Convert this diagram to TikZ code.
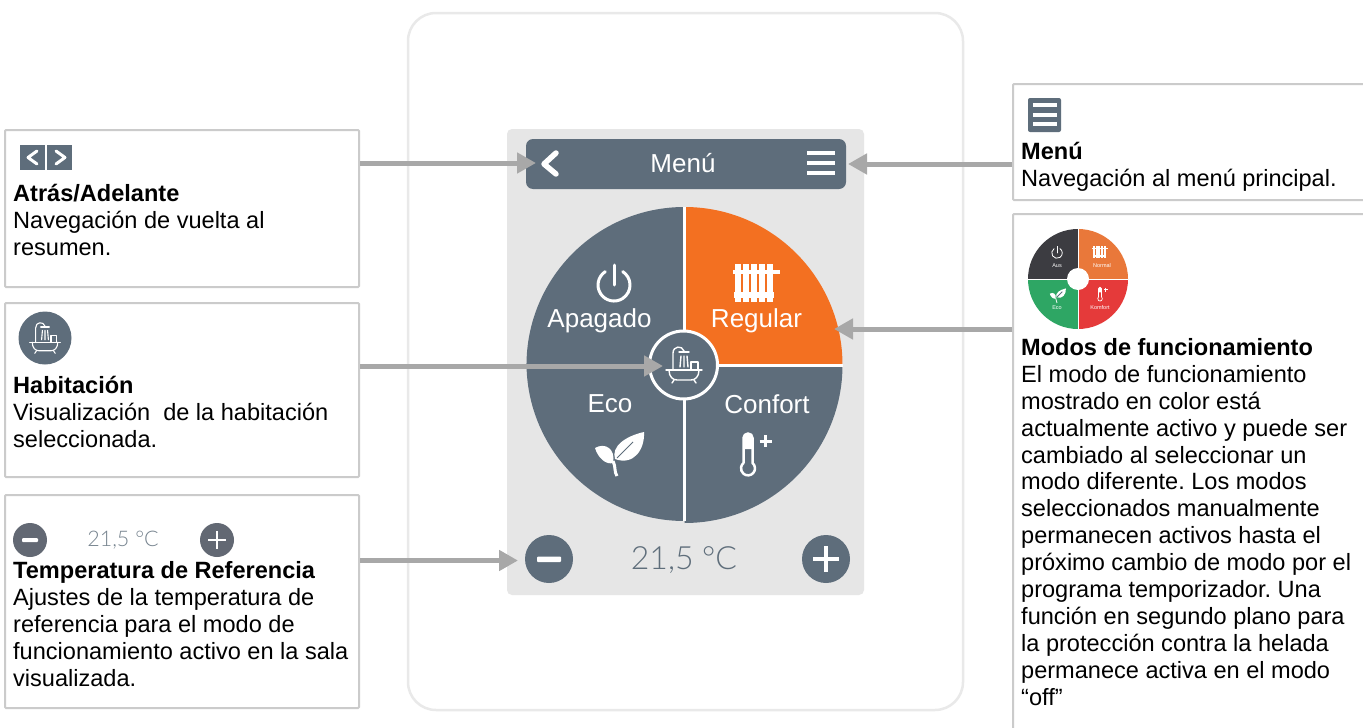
\documentclass[tikz,border=0pt]{standalone}
\usepackage{fontspec}
\setmainfont{Liberation Sans}
\newfontfamily\tempfont[UprightFont={* Light}]{Lato}
\usetikzlibrary{arrows.meta}
\definecolor{slate}{HTML}{5E6D7B}
\definecolor{orangemode}{HTML}{F37021}
\definecolor{panelgray}{HTML}{E6E6E6}
\definecolor{cardline}{HTML}{E9E9E9}
\definecolor{boxline}{HTML}{CBCBCB}
\definecolor{arrowgray}{HTML}{A8A8A8}
\definecolor{tempgray}{HTML}{5F6E7B}
\definecolor{minigray}{HTML}{626873}
\definecolor{miniblack}{HTML}{3C3C41}
\definecolor{miniorange}{HTML}{E9783A}
\definecolor{minired}{HTML}{E53A3A}
\definecolor{minigreen}{HTML}{2EA664}
\frenchspacing
\tikzset{
  x=1pt,y=-1pt,
  infobox/.style={draw=boxline,line width=2pt,fill=white,inner sep=0pt,rounded corners=1pt},
  infotext/.style={anchor=north west,inner sep=0pt,align=left,text=black,font=\frenchspacing\fontsize{23.55}{26.9}\selectfont},
  apptext/.style={text=white,inner sep=0pt,font=\fontsize{26}{30}\selectfont},
  conn/.style={draw=arrowgray,line width=5pt,-{Triangle[length=19pt,width=20pt]}},
  divider/.style={draw=white,line width=3pt},
  ico/.style={draw=white,line cap=round,line join=round},
  tinytext/.style={text=white,inner sep=0pt,font=\fontsize{5.5}{6}\selectfont},
}
% icon macros: x, y, scale, line width
\newcommand{\iconpower}[4]{\begin{scope}[shift={(#1,#2)},scale=#3]
  \draw[ico,line width=#4] (-8.7,-13.4) arc[start angle=237,end angle=-57,radius=16];
  \draw[ico,line width=#4] (0,-20) -- (0,0);
\end{scope}}
\newcommand{\iconradiator}[3]{\begin{scope}[shift={(#1,#2)},scale=#3]
  \foreach \bx in {-21,-13,-5,3,11} \fill[white] (\bx,-19) rectangle ++(6.2,38);
  \fill[white] (-23,-13) rectangle (24,-9);
  \fill[white] (-22,9) rectangle (18,15);
\end{scope}}
\newcommand{\iconleaf}[4]{\begin{scope}[shift={(#1,#2)},scale=#3]
  \fill[white] (-5,7) .. controls (-9,-6) and (6,-16) .. (24,-20) .. controls (25,-3) and (14,14) .. (-5,7) -- cycle;
  \fill[white] (-25,-4) .. controls (-15,-10) and (-4,-3) .. (-7,11) .. controls (-14,13) and (-22,6) .. (-25,-4) -- cycle;
  \draw[draw=slate,line width=0.8pt] (-3,6) -- (13,-10);
  \draw[draw=white,line width=#4] (-7,9) .. controls (-4,15) and (-6,20) .. (-3,24);
\end{scope}}
\newcommand{\iconthermo}[4]{\begin{scope}[shift={(#1,#2)},scale=#3]
  \draw[ico,line width=#4] (-4.5,12) -- (-4.5,-13) arc[start angle=180,end angle=360,radius=4.5] -- (4.5,12) arc[start angle=-50,end angle=230,radius=7];
  \fill[white] (-4.5,-2) -- (-4.5,-13) arc[start angle=180,end angle=360,radius=4.5] -- (4.5,-2) -- cycle;
  \draw[draw=white,line width=1.2*#4] (11.5,-10) -- (23.5,-10) (17.5,-16) -- (17.5,-4);
\end{scope}}
\newcommand{\iconbath}[4]{\begin{scope}[shift={(#1,#2)},scale=#3]
  \draw[ico,line width=#4] (-18,5) -- (18,5);
  \draw[ico,line width=#4] (-15,5) .. controls (-15,12) and (-11,15) .. (-7,15) -- (7,15) .. controls (11,15) and (15,12) .. (15,5);
  \draw[ico,line width=#4] (-10,15) -- (-12,18) (10,15) -- (12,18);
  \draw[ico,line width=#4] (-11,5) -- (-11,-12) .. controls (-11,-19) and (-2,-20) .. (0,-14);
  \draw[ico,line width=#4] (-5,-13) -- (5,-13);
  \draw[ico,line width=#4] (-3,-9) -- (-4,2) (0,-9) -- (0,2) (3,-9) -- (4,2);
  \draw[ico,line width=#4] (7,-3) rectangle (14,5);
\end{scope}}
\begin{document}
\begin{tikzpicture}
\clip (0,0) rectangle (1363,728);
\fill[white] (0,0) rectangle (1363,728);
% device card and panel
\draw[draw=cardline,line width=2.5pt,fill=white,rounded corners=28pt] (408,13) rectangle (963,710);
\fill[panelgray,rounded corners=5pt] (507,129) rectangle (864,595);
% header
\node[fill=slate,rounded corners=7pt,minimum width=320pt,minimum height=50pt,inner sep=0pt] (hdr) at (686,164) {};
\node[apptext] (menutitle) at (683,163) {Menú};
\draw[ico,line width=5.5pt] (556,153) -- (544,164) -- (556,174);
\foreach \yy in {153,163,173} \fill[white] (807,\yy-2.3) rectangle (835,\yy+2.3);
% pie
\coordinate (pc) at (684.5,365);
\fill[slate] (pc) -- ++(-158,0) arc[start angle=180,end angle=270,radius=158] -- cycle;
\fill[orangemode] (pc) -- ++(0,-158) arc[start angle=270,end angle=360,radius=158] -- cycle;
\fill[slate] (pc) -- ++(158,0) arc[start angle=0,end angle=90,radius=158] -- cycle;
\fill[slate] (pc) -- ++(0,156) arc[start angle=90,end angle=180,radius=158] -- cycle;
\draw[divider] (684,207) -- (684,521);
\draw[divider] (526,365.5) -- (843,365.5);
\node[circle,draw=white,line width=3pt,fill=slate,minimum size=68pt,inner sep=0pt] (room) at (683.5,365) {};
\iconbath{684}{365}{1}{1.4pt}
\iconpower{614}{285}{1}{3pt}
\iconradiator{756}{283}{1}
\iconleaf{620}{452}{1}{3pt}
\iconthermo{748}{451}{1}{2.5pt}
\node[apptext] (lapagado) at (599.5,321) {Apagado};
\node[apptext] (lregular) at (756.5,321) {Regular};
\node[apptext] (leco) at (610,404) {Eco};
\node[apptext] (lconfort) at (767,404) {Confort};
% minus / plus / temp
\node[circle,fill=slate,minimum size=48pt,inner sep=0pt] (minusb) at (549,559) {};
\fill[white,rounded corners=1pt] (537,556.5) rectangle (561,562);
\node[circle,fill=slate,minimum size=48pt,inner sep=0pt] (plusb) at (826,559) {};
\draw[draw=white,line width=3.6pt] (813,559) -- (839,559) (826,546) -- (826,572);
\node[text=tempgray,inner sep=0pt,font=\tempfont\fontsize{32}{36}\selectfont] (temp) at (684,560) {21,5 °C};
% left boxes
\node[infobox,minimum width=354pt,minimum height=157pt] (box1) at (182,208.5) {};
\node[infobox,minimum width=354pt,minimum height=174pt] (box2) at (182,390) {};
\node[infobox,minimum width=354pt,minimum height=213pt] (box3) at (182,601.5) {};
% right boxes (run off the page)
\node[infobox,minimum width=370pt,minimum height=116pt] (box4) at (1198,142) {};
\node[infobox,minimum width=370pt,minimum height=530pt] (box5) at (1198,479) {};
% box 1 content
\fill[slate] (20,145) rectangle (45,170);
\fill[slate] (47,145) rectangle (72,170);
\draw[ico,line width=3pt] (37,151) -- (28,157.5) -- (37,164);
\draw[ico,line width=3pt] (56,151) -- (65,157.5) -- (56,164);
\node[infotext] (t1) at (13,182.4) {\strut\textbf{Atrás/Adelante}\\Navegación de vuelta al\\resumen.};
% box 2 content
\node[circle,fill=slate,minimum size=53pt,inner sep=0pt] (roomicon) at (45,338) {};
\iconbath{45}{338}{0.85}{1.1pt}
\node[infotext] (t2) at (13,374.5) {\strut\textbf{Habitación}\\Visualización~ de la habitación\\seleccionada.};
% box 3 content
\node[circle,fill=minigray,minimum size=34pt,inner sep=0pt] (minusi) at (30,540) {};
\fill[white,rounded corners=1pt] (22,538) rectangle (38,542);
\node[circle,fill=minigray,minimum size=34pt,inner sep=0pt] (plusi) at (217,540) {};
\draw[draw=white,line width=2.2pt] (208,540) -- (226,540) (217,531) -- (217,549);
\node[text=tempgray!85,inner sep=0pt,font=\tempfont\fontsize{21.5}{26}\selectfont] (tempi) at (123,540) {21,5 °C};
\node[infotext] (t3) at (13,559.4) {\strut\textbf{Temperatura de Referencia}\\Ajustes de la temperatura de\\referencia para el modo de\\funcionamiento activo en la sala\\visualizada.};
% box 4 content
\node[fill=slate,rounded corners=2pt,minimum width=33pt,minimum height=34pt,inner sep=0pt] (menuicon) at (1044.5,115) {};
\foreach \yy in {105,114.5,124} \fill[white] (1033,\yy-2) rectangle (1057,\yy+2);
\node[infotext] (t4) at (1021,140.4) {\strut\textbf{Menú}\\Navegación al menú principal.};
% box 5 content
\coordinate (mc) at (1078,279);
\fill[miniblack] (mc) -- ++(-50,0) arc[start angle=180,end angle=270,radius=50] -- cycle;
\fill[miniorange] (mc) -- ++(0,-50) arc[start angle=270,end angle=360,radius=50] -- cycle;
\fill[minired] (mc) -- ++(50,0) arc[start angle=0,end angle=90,radius=50] -- cycle;
\fill[minigreen] (mc) -- ++(0,50) arc[start angle=90,end angle=180,radius=50] -- cycle;
\draw[draw=white,line width=1pt] (1078,229) -- (1078,329) (1028,279) -- (1128,279);
\node[circle,fill=white,minimum size=22pt,inner sep=0pt] (hole) at (mc) {};
\iconpower{1057}{253}{0.33}{0.8pt}
\iconradiator{1100}{252}{0.33}
\iconleaf{1058}{295}{0.33}{0.8pt}
\iconthermo{1100}{293}{0.33}{0.7pt}
\node[tinytext] (maus) at (1057,266) {Aus};
\node[tinytext] (mnormal) at (1102,266) {Normal};
\node[tinytext] (meco) at (1057,308) {Eco};
\node[tinytext] (mkomfort) at (1100,308) {Komfort};
\node[infotext] (t5) at (1021,336.4) {\strut\textbf{Modos de funcionamiento}\\El modo de funcionamiento\\mostrado en color está\\actualmente activo y puede ser\\cambiado al seleccionar un\\modo diferente. Los modos\\seleccionados manualmente\\permanecen activos hasta el\\próximo cambio de modo por el\\programa temporizador. Una\\función en segundo plano para\\la protección contra la helada\\permanece activa en el modo\\“off”};
% connector ends
\coordinate (tipback) at (536,163);
\coordinate (tipmenu) at (848,164);
\coordinate (tipmode) at (834,329);
\coordinate (tiproom) at (663,366);
\coordinate (tipminus) at (518,560.5);
\draw[conn] (box1.east |- tipback) -- (tipback);
\draw[conn] (box4.west |- tipmenu) -- (tipmenu);
\draw[conn] (box5.west |- tipmode) -- (tipmode);
\draw[conn] (box2.east |- tiproom) -- (tiproom);
\draw[conn] (box3.east |- tipminus) -- (tipminus);
\end{tikzpicture}
\end{document}
